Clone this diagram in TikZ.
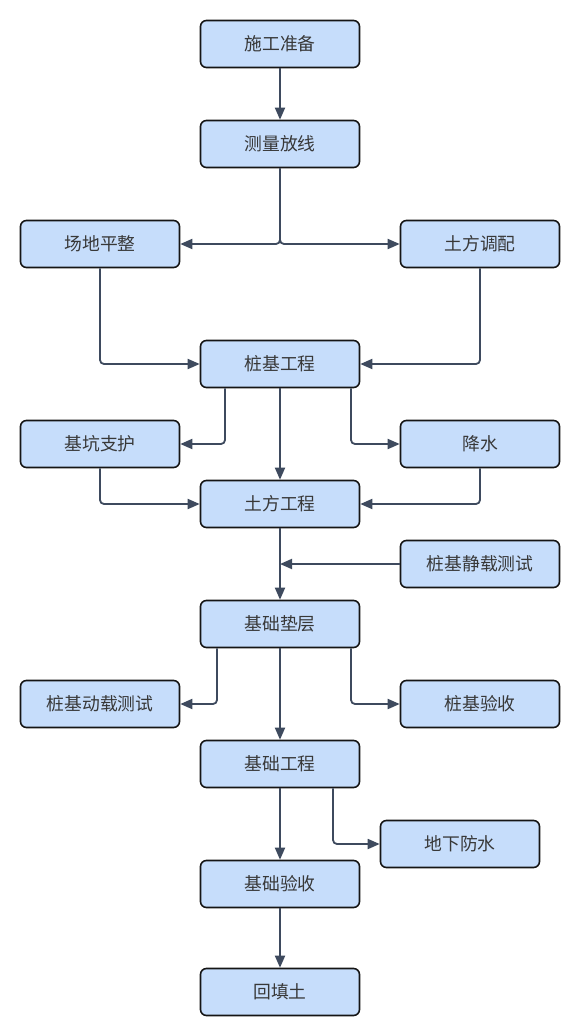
\documentclass[tikz,border=0pt]{standalone}
\usepackage{fontspec}
\setmainfont{Noto Sans CJK SC}
\usetikzlibrary{arrows.meta}
\definecolor{boxblue}{HTML}{C6DDFB}
\definecolor{boxline}{HTML}{151515}
\definecolor{connline}{HTML}{3E4A5E}
\definecolor{txtgray}{HTML}{383838}
\tikzset{
  box/.style={draw=boxline, line width=1.6pt, fill=boxblue, rounded corners=6pt,
    minimum width=159pt, minimum height=47pt, inner sep=0pt,
    font=\fontsize{17.8}{19}\selectfont, text=txtgray},
  conn/.style={draw=connline, line width=1.8pt, rounded corners=4pt,
    -{Triangle[length=12pt,width=10pt]}}
}
\begin{document}
\begin{tikzpicture}[x=1pt,y=-1pt]
\fill[white] (0,0) rectangle (580,1036);
\useasboundingbox (0,0) rectangle (580,1036);
\node[box] (a) at (280,44) {施工准备};
\node[box] (b) at (280,144) {测量放线};
\node[box] (c) at (100,244) {场地平整};
\node[box] (d) at (480,244) {土方调配};
\node[box] (e) at (280,364) {桩基工程};
\node[box] (f) at (100,444) {基坑支护};
\node[box] (g) at (480,444) {降水};
\node[box] (h) at (280,504) {土方工程};
\node[box] (i) at (480,564) {桩基静载测试};
\node[box] (j) at (280,624) {基础垫层};
\node[box] (k) at (100,704) {桩基动载测试};
\node[box] (l) at (480,704) {桩基验收};
\node[box] (m) at (280,764) {基础工程};
\node[box] (n) at (460,844) {地下防水};
\node[box] (o) at (280,884) {基础验收};
\node[box] (p) at (280,992) {回填土};
\coordinate (ij) at (280,564);
\draw[conn] (a) -- (b);
\draw[conn] (b.south) |- (c.east);
\draw[conn] (b.south) |- (d.west);
\draw[conn] (c.south) |- (e.west);
\draw[conn] (d.south) |- (e.east);
\draw[conn] ([xshift=-55pt]e.south) |- (f.east);
\draw[conn] ([xshift=71pt]e.south) |- (g.west);
\draw[conn] (e) -- (h);
\draw[conn] (f.south) |- (h.west);
\draw[conn] (g.south) |- (h.east);
\draw[conn] (h) -- (j);
\draw[conn] (i.west) -- (ij);
\draw[conn] ([xshift=-63pt]j.south) |- (k.east);
\draw[conn] ([xshift=71pt]j.south) |- (l.west);
\draw[conn] (j) -- (m);
\draw[conn] ([xshift=53pt]m.south) |- (n.west);
\draw[conn] (m) -- (o);
\draw[conn] (o) -- (p);
\end{tikzpicture}
\end{document}
